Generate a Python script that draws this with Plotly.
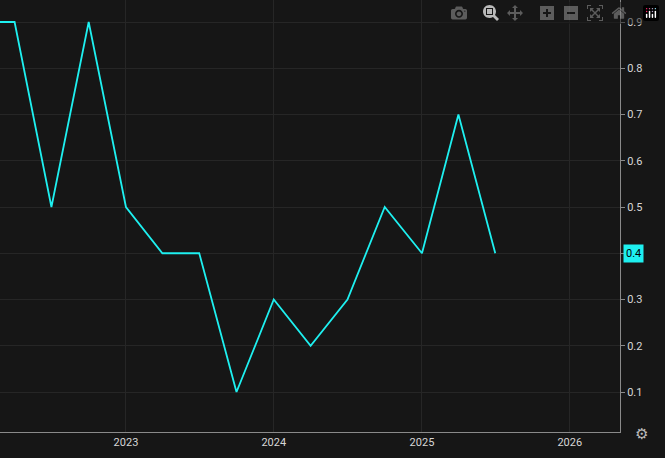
import plotly.graph_objects as go

# quarterly values
dates = ["2022-01-01", "2022-04-01", "2022-07-01", "2022-10-01", "2023-01-01",
         "2023-04-01", "2023-07-01", "2023-10-01", "2024-01-01", "2024-04-01",
         "2024-07-01", "2024-10-01", "2025-01-01", "2025-04-01", "2025-07-01"]
values = [0.9, 0.9, 0.5, 0.9, 0.5, 0.4, 0.4, 0.1, 0.3, 0.2, 0.3, 0.5, 0.4, 0.7, 0.4]

line_color = "#1ef0f0"
grid = "#262626"

fig = go.Figure(go.Scatter(x=dates, y=values, mode="lines",
                           line=dict(color=line_color, width=1.8), hoverinfo="skip"))

fig.update_layout(
    width=665, height=458,
    margin=dict(l=0, r=45, t=0, b=26),
    paper_bgcolor="#161616", plot_bgcolor="#161616",
    showlegend=False,
    font=dict(family="Roboto", size=11, color="#d6d6d6"),
)
fig.update_xaxes(range=["2022-02-24", "2026-05-05"], showgrid=True, gridcolor=grid,
                 tickvals=["2023-01-01", "2024-01-01", "2025-01-01", "2026-01-01"],
                 ticktext=["2023", "2024", "2025", "2026"],
                 showline=True, linecolor="#8a8a8a", zeroline=False, ticks="")
fig.update_yaxes(range=[0.0135, 0.9476], side="right", showgrid=True, gridcolor=grid,
                 tickvals=[0.1, 0.2, 0.3, 0.4, 0.5, 0.6, 0.7, 0.8, 0.9],
                 tickformat=".1f", showline=True, linecolor="#8a8a8a",
                 zeroline=False, ticks="outside", ticklen=4, tickcolor="#8a8a8a")

fig.add_annotation(xref="paper", yref="y", x=1, y=values[-1], text=f"{values[-1]:.1f}",
                   showarrow=False, xanchor="left", xshift=3, bgcolor=line_color,
                   font=dict(color="#000000", size=11), borderpad=2)
fig.add_annotation(xref="paper", yref="paper", x=1, y=0, yshift=-13, xshift=30,
                   text="⚙", showarrow=False, font=dict(size=15, color="#bbbbbb"))

# drop the default page margin so the chart fills the window
fig.write_html("out.html",
               post_script="document.body.style.margin='0';document.body.style.background='#161616';")
